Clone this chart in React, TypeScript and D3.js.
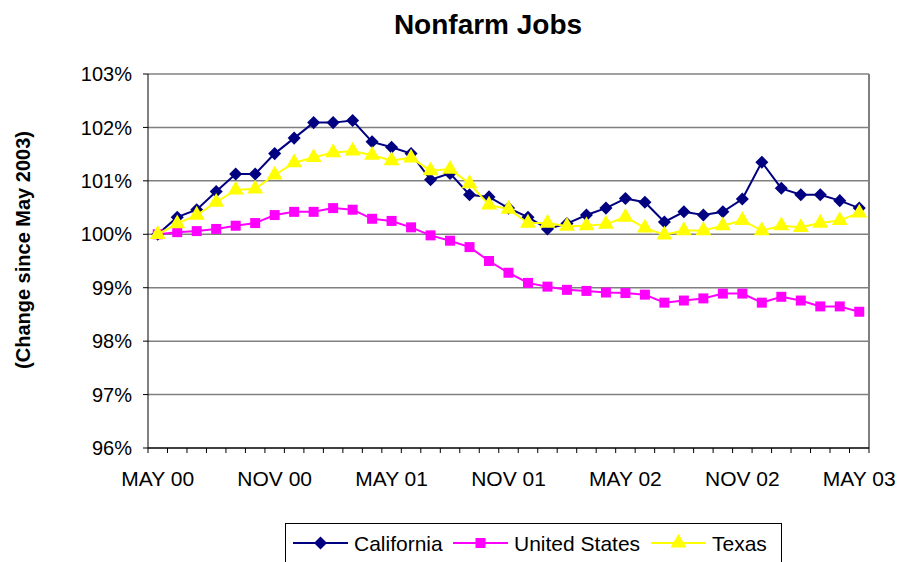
import React, { useEffect, useRef } from 'react';
import * as d3 from 'd3';

// meses (MAY 00 .. MAY 03)
const months = [
  'MAY 00', 'JUN 00', 'JUL 00', 'AUG 00', 'SEP 00', 'OCT 00', 'NOV 00', 'DEC 00',
  'JAN 01', 'FEB 01', 'MAR 01', 'APR 01', 'MAY 01', 'JUN 01', 'JUL 01', 'AUG 01',
  'SEP 01', 'OCT 01', 'NOV 01', 'DEC 01', 'JAN 02', 'FEB 02', 'MAR 02', 'APR 02',
  'MAY 02', 'JUN 02', 'JUL 02', 'AUG 02', 'SEP 02', 'OCT 02', 'NOV 02', 'DEC 02',
  'JAN 03', 'FEB 03', 'MAR 03', 'APR 03', 'MAY 03',
];

const california = [
  100.0, 100.32, 100.46, 100.8, 101.13, 101.13, 101.51, 101.8, 102.09, 102.09,
  102.13, 101.73, 101.63, 101.51, 101.02, 101.14, 100.74, 100.7, 100.49, 100.32,
  100.1, 100.2, 100.36, 100.49, 100.67, 100.6, 100.23, 100.42, 100.36, 100.42,
  100.66, 101.35, 100.86, 100.74, 100.74, 100.63, 100.49,
];

const unitedStates = [
  100.0, 100.04, 100.06, 100.1, 100.16, 100.21, 100.36, 100.42, 100.42, 100.49,
  100.46, 100.29, 100.25, 100.13, 99.98, 99.88, 99.76, 99.5, 99.28, 99.09,
  99.02, 98.96, 98.94, 98.91, 98.9, 98.87, 98.72, 98.76, 98.8, 98.89,
  98.89, 98.72, 98.83, 98.76, 98.65, 98.65, 98.55,
];

const texas = [
  100.0, 100.2, 100.36, 100.6, 100.83, 100.85, 101.11, 101.34, 101.44, 101.53,
  101.56, 101.48, 101.38, 101.43, 101.19, 101.22, 100.95, 100.55, 100.47, 100.21,
  100.21, 100.15, 100.16, 100.19, 100.32, 100.12, 99.99, 100.07, 100.07, 100.16,
  100.26, 100.07, 100.16, 100.13, 100.21, 100.26, 100.4,
];

const yTicks = [96, 97, 98, 99, 100, 101, 102, 103];

// el rombo es un cuadrado girado 45 grados
const series = [
  { name: 'California', values: california, color: '#000080', symbol: d3.symbolSquare, size: 85, rotate: 45 },
  { name: 'United States', values: unitedStates, color: '#FF00FF', symbol: d3.symbolSquare, size: 100, rotate: 0 },
  { name: 'Texas', values: texas, color: '#FFFF00', symbol: d3.symbolTriangle, size: 110, rotate: 0 },
];

const App = () => {
  const svgRef = useRef<SVGSVGElement>(null);

  useEffect(() => {
    const width = 903;
    const height = 562;
    const left = 148, right = 869, top = 74, bottom = 448;
    const font = 'Arial, "Liberation Sans", sans-serif';

    const root = d3.select(svgRef.current);
    root.selectAll('*').remove();
    const svg = root.attr('width', width).attr('height', height);

    svg.append('rect').attr('width', width).attr('height', height).attr('fill', '#fff');

    const x = d3.scaleBand<number>()
      .domain(months.map((_, i) => i))
      .range([left, right]);
    const cx = (i: number) => (x(i) as number) + x.bandwidth() / 2;

    const y = d3.scaleLinear().domain([96, 103]).range([bottom, top]);

    // titulo
    svg.append('text')
      .attr('x', 488).attr('y', 34)
      .attr('text-anchor', 'middle')
      .style('font-family', font).style('font-weight', 'bold').style('font-size', '28px')
      .text('Nonfarm Jobs');

    svg.append('text')
      .attr('transform', `translate(30,250) rotate(-90)`)
      .attr('text-anchor', 'middle')
      .style('font-family', font).style('font-weight', 'bold').style('font-size', '20px')
      .text('(Change since May 2003)');

    // grilla
    svg.append('g').selectAll('line')
      .data(yTicks.filter(t => t > 96))
      .enter().append('line')
      .attr('x1', left).attr('x2', right)
      .attr('y1', d => y(d)).attr('y2', d => y(d))
      .attr('stroke', '#808080').attr('stroke-width', 1.5);

    svg.append('line')
      .attr('x1', right).attr('x2', right).attr('y1', top).attr('y2', bottom)
      .attr('stroke', '#808080').attr('stroke-width', 2);

    // eje Y
    const yAxis = svg.append('g');
    yAxis.append('line')
      .attr('x1', left).attr('x2', left).attr('y1', top).attr('y2', bottom)
      .attr('stroke', '#000').attr('stroke-width', 1);
    yAxis.selectAll('line.tick')
      .data(yTicks).enter().append('line')
      .attr('class', 'tick')
      .attr('x1', left - 5).attr('x2', left)
      .attr('y1', d => y(d)).attr('y2', d => y(d))
      .attr('stroke', '#000');
    yAxis.selectAll('text')
      .data(yTicks).enter().append('text')
      .attr('x', 132).attr('y', d => y(d))
      .attr('dy', '0.36em')
      .attr('text-anchor', 'end')
      .style('font-family', font).style('font-size', '20px')
      .text(d => `${d}%`);

    // eje X
    const xAxis = svg.append('g');
    xAxis.append('line')
      .attr('x1', left).attr('x2', right).attr('y1', bottom).attr('y2', bottom)
      .attr('stroke', '#000').attr('stroke-width', 1.5);
    const bounds = months.map((_, i) => x(i) as number).concat([right]);
    xAxis.selectAll('line.tick')
      .data(bounds).enter().append('line')
      .attr('class', 'tick')
      .attr('x1', d => d).attr('x2', d => d)
      .attr('y1', bottom).attr('y2', bottom + 5)
      .attr('stroke', '#000');
    xAxis.selectAll('text')
      .data(months.map((m, i) => ({ m, i })).filter(d => d.i % 6 === 0))
      .enter().append('text')
      .attr('x', d => cx(d.i)).attr('y', 486)
      .attr('text-anchor', 'middle')
      .style('font-family', font).style('font-size', '21px')
      .text(d => d.m);

    // series
    const line = d3.line<number>().x((_, i) => cx(i)).y(d => y(d));
    series.forEach(s => {
      const g = svg.append('g');
      g.append('path')
        .datum(s.values)
        .attr('d', line)
        .attr('fill', 'none')
        .attr('stroke', s.color)
        .attr('stroke-width', 2);
      g.selectAll('path.pt')
        .data(s.values).enter().append('path')
        .attr('class', 'pt')
        .attr('transform', (d, i) => `translate(${cx(i)},${y(d)}) rotate(${s.rotate})`)
        .attr('d', d3.symbol().type(s.symbol).size(s.size)())
        .attr('fill', s.color);
    });

    // leyenda
    const legend = svg.append('g');
    legend.append('rect')
      .attr('x', 285.5).attr('y', 523.5).attr('width', 496).attr('height', 50)
      .attr('fill', 'none').attr('stroke', '#000');
    const itemX = [293, 453, 651];
    series.forEach((s, k) => {
      const lx = itemX[k];
      const ly = 543;
      legend.append('line')
        .attr('x1', lx).attr('x2', lx + 55).attr('y1', ly).attr('y2', ly)
        .attr('stroke', s.color).attr('stroke-width', 2);
      legend.append('path')
        .attr('transform', `translate(${lx + 27.5},${ly}) rotate(${s.rotate})`)
        .attr('d', d3.symbol().type(s.symbol).size(s.size)())
        .attr('fill', s.color);
      legend.append('text')
        .attr('x', lx + 61).attr('y', ly).attr('dy', '0.36em')
        .style('font-family', font).style('font-size', '21px')
        .text(s.name);
    });
  }, []);

  return (
    <div style={{ position: 'absolute', left: 0, top: 0 }}>
      <svg ref={svgRef}></svg>
    </div>
  );
};

export default App;
